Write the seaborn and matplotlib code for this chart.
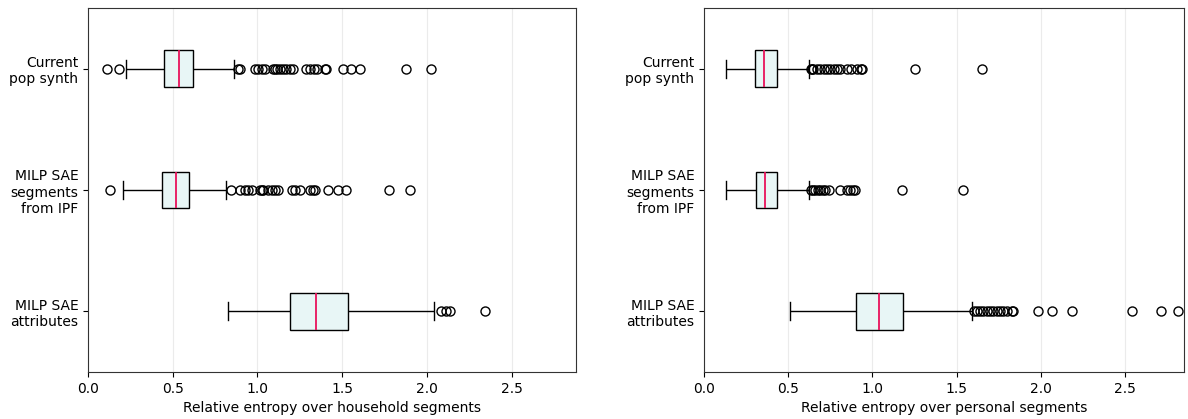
import numpy as np
import pandas as pd
import matplotlib
matplotlib.use("Agg")
import matplotlib.pyplot as plt
import seaborn as sns

# Category labels
categories = ["Current\npop synth", "MILP SAE\nsegments\nfrom IPF", "MILP SAE\nattributes"]

# ---- Household segments: summary values ----
hh_low_out = [[0.11, 0.185], [0.130], []]
hh_wlo = [0.222, 0.206, 0.827]
hh_q1 = [0.450, 0.438, 1.195]
hh_med = [0.535, 0.519, 1.348]
hh_q3 = [0.621, 0.597, 1.537]
hh_whi = [0.861, 0.812, 2.042]
hh_up_out = [
    [0.886, 0.896, 0.985, 1.004, 1.024, 1.044, 1.089, 1.103, 1.116, 1.132, 1.152,
     1.171, 1.191, 1.211, 1.289, 1.313, 1.334, 1.352, 1.397, 1.407, 1.505, 1.555,
     1.604, 1.875, 2.022],
    [0.843, 0.896, 0.926, 0.945, 0.965, 1.014, 1.024, 1.030, 1.063, 1.083, 1.103,
     1.122, 1.201, 1.220, 1.250, 1.309, 1.328, 1.338, 1.417, 1.476, 1.525, 1.777,
     1.899],
    [2.085, 2.115, 2.139, 2.341],
]

# ---- Personal segments ----
p_low_out = [[], [], []]
p_wlo = [0.131, 0.133, 0.511]
p_q1 = [0.305, 0.307, 0.901]
p_med = [0.355, 0.362, 1.037]
p_q3 = [0.435, 0.435, 1.180]
p_whi = [0.625, 0.625, 1.590]
p_up_out = [
    [0.635, 0.64, 0.65, 0.67, 0.69, 0.71, 0.73, 0.75, 0.77, 0.79, 0.81, 0.85,
     0.87, 0.91, 0.93, 0.94, 1.255, 1.651],
    [0.635, 0.645, 0.66, 0.675, 0.69, 0.705, 0.72, 0.74, 0.81, 0.847, 0.867,
     0.887, 0.897, 1.174, 1.536],
    [1.603, 1.619, 1.639, 1.659, 1.678, 1.698, 1.718, 1.738, 1.758, 1.778, 1.797,
     1.827, 1.833, 1.985, 2.065, 2.183, 2.540, 2.712, 2.817],
]

xlabels = ["Relative entropy over household segments",
           "Relative entropy over personal segments"]


def sample_from_summary(lo, wlo, q1, med, q3, whi, up):
    """Build a sample whose box-plot statistics equal the given summary."""
    m = max(len(lo) + 1, len(up) + 1) + 2
    vals = (list(lo) + [wlo] + [q1] * (m - len(lo) - 1)
            + [q1] + [med] * (m - 1) + [med] + [q3] * (m - 1) + [q3]
            + [q3] * (m - len(up) - 1) + [whi] + list(up))
    return vals


def build_df(low, wlo, q1, med, q3, whi, up):
    rows = []
    for i, c in enumerate(categories):
        for v in sample_from_summary(low[i], wlo[i], q1[i], med[i], q3[i], whi[i], up[i]):
            rows.append((c, v))
    return pd.DataFrame(rows, columns=["method", "value"])


df_hh = build_df(hh_low_out, hh_wlo, hh_q1, hh_med, hh_q3, hh_whi, hh_up_out)
df_p = build_df(p_low_out, p_wlo, p_q1, p_med, p_q3, p_whi, p_up_out)

plt.rcParams["font.family"] = ["DejaVu Sans"]
plt.rcParams["font.size"] = 10

fig = plt.figure(figsize=(11.88, 4.19), dpi=100)
ax1 = fig.add_axes([88 / 1188, 1 - 372 / 419, (576 - 88) / 1188, (372 - 8) / 419])
ax2 = fig.add_axes([704 / 1188, 1 - 372 / 419, (1184 - 704) / 1188, (372 - 8) / 419])

for ax, df, xl, xmax in [(ax1, df_hh, xlabels[0], 2.88), (ax2, df_p, xlabels[1], 2.85)]:
    ax.grid(axis="x", color="#ebebeb", linewidth=0.8, zorder=0)
    ax.set_axisbelow(True)
    sns.boxplot(
        data=df, x="value", y="method", order=categories, orient="h", ax=ax,
        width=0.3, color="#e8f6f6", saturation=1, linecolor="black", linewidth=1,
        medianprops=dict(color="#e8125c", linewidth=1.3),
        flierprops=dict(marker="o", markerfacecolor="none", markeredgecolor="black",
                        markersize=6.5, markeredgewidth=1),
    )
    ax.set_xlim(0, xmax)
    ax.set_ylim(2.5, -0.5)
    ax.set_xlabel(xl)
    ax.set_ylabel("")
    ax.set_xticks([0, 0.5, 1.0, 1.5, 2.0, 2.5])
    for s in ax.spines.values():
        s.set_color("#333333")

fig.savefig("out.png", dpi=100)
